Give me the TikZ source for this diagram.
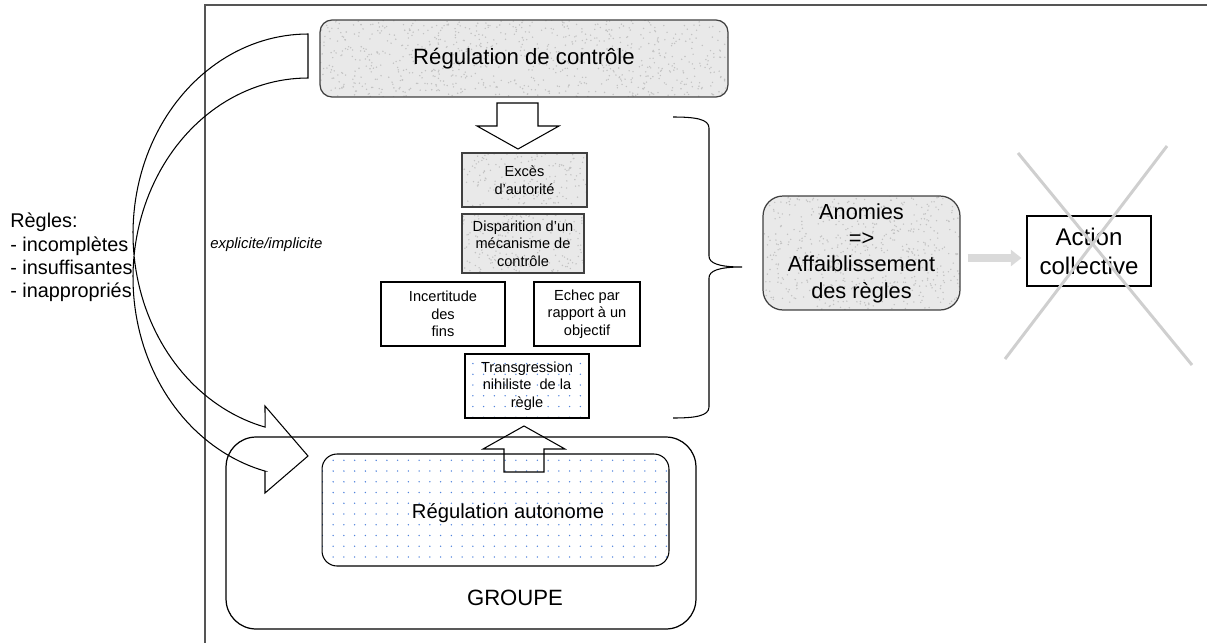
\documentclass[tikz,border=0pt]{standalone}
\usepackage{fontspec}
\setmainfont{Liberation Sans}
\usetikzlibrary{arrows.meta,patterns.meta,calc}
\definecolor{framegray}{HTML}{555555}
\definecolor{texgray}{HTML}{E9E9E9}
\definecolor{specdark}{HTML}{C2C2C2}
\definecolor{texborder}{HTML}{404040}
\definecolor{dotblue}{HTML}{4F82DC}
\definecolor{xgray}{HTML}{CFCFCF}
\definecolor{arrgray}{HTML}{DADADA}
\newcommand\mkspeckles[1]{%
  \coordinate (spsw) at (path picture bounding box.south west);
  \coordinate (spne) at (path picture bounding box.north east);
  \foreach \k in {1,...,#1}{%
    \pgfmathsetmacro\spa{rnd}\pgfmathsetmacro\spb{rnd}%
    \fill[specdark] let \p1=(spsw), \p2=(spne) in
      ({\x1+\spa*(\x2-\x1)},{\y1+\spb*(\y2-\y1)}) circle[radius=0.45pt];
  }}
\tikzset{
  granite/.style={draw=texborder, fill=texgray, line width=0.7pt, path picture={\mkspeckles{#1}}},
  plainbox/.style={draw=black, fill=white, line width=0.6pt},
  dotbox/.style={draw=black, line width=0.6pt, preaction={fill=white},
    pattern={Dots[distance=0.215cm, radius=0.45pt]}, pattern color=dotblue},
  smalltext/.style={font=\fontsize{8.3}{10}\selectfont, align=center, inner sep=0pt},
  shapeline/.style={draw=black, line width=0.6pt},
  xline/.style={draw=xgray, line width=1.7pt},
  grayarrow/.style={draw=arrgray, line width=4pt, -{Triangle[length=6pt,width=9pt]}},
}
\begin{document}
\begin{tikzpicture}[x=0.02cm, y=-0.02cm]
\pgfmathsetseed{12345}
\useasboundingbox (0,0) rectangle (1207,643);

% frame
\draw[framegray, line width=0.9pt] (1207,5) -- (205,5) -- (205,643);

% top box
\node[granite=800, rounded corners=0.24cm, minimum width=8.16cm, minimum height=1.54cm,
      font=\fontsize{12.6}{15}\selectfont] (rc) at (524,58.5) {Régulation de contrôle};

% down block arrow
\draw[shapeline, fill=white] (497,103) -- (538,103) -- (538,126) -- (559,126) -- (518,149)
  -- (477,126) -- (497,126) -- cycle;

% small boxes
\node[granite=170, smalltext, minimum width=2.5cm, minimum height=1.08cm] (exc) at (524.5,180) {Excès\\d’autorité};
\node[granite=180, smalltext, minimum width=2.44cm, minimum height=1.18cm] (disp) at (523,243.5) {Disparition d’un\\mécanisme de\\contrôle};
\node[plainbox, smalltext, minimum width=2.48cm, minimum height=1.28cm] (inc) at (443,314) {Incertitude\\des\\fins};
\node[plainbox, smalltext, minimum width=2.12cm, minimum height=1.28cm] (ech) at (587,314) {Echec par\\rapport à un\\objectif};
\node[dotbox, smalltext, minimum width=2.48cm, minimum height=1.28cm] (tr) at (527,386) {Transgression\\nihiliste\ \ de la\\règle};

% groupe
\node[draw=black, line width=0.7pt, rounded corners=0.6cm, minimum width=9.4cm, minimum height=3.84cm] (grp) at (461,533) {};
\node[dotbox, rounded corners=0.3cm, minimum width=6.94cm, minimum height=2.24cm] (ra) at (495.5,510) {};
\node[font=\fontsize{11.5}{14}\selectfont, inner sep=0pt] (ralbl) at (508,513) {Régulation autonome};
\node[font=\fontsize{12.6}{15}\selectfont, inner sep=0pt] (grplbl) at (515,598) {GROUPE};

% up block arrow
\draw[shapeline] (504,472) -- (504,449) -- (483,449) -- (524,426) -- (565,449) -- (544,449) -- (544,472) -- cycle;

% brace
\draw[black, line width=0.6pt] (673,117) .. controls (695,117) and (709,119) .. (709,128)
  -- (709,256) .. controls (709,263) and (718,267) .. (742,267)
  .. controls (718,267) and (709,271) .. (709,278)
  -- (709,407) .. controls (709,416) and (695,418) .. (673,418);

% anomies
\node[granite=560, rounded corners=0.4cm, minimum width=3.94cm, minimum height=2.28cm, align=center,
      font=\fontsize{12.4}{15}\selectfont] (anom) at (861.5,253) {Anomies\\=>\\Affaiblissement\\des règles};

% action collective
\node[plainbox, minimum width=2.48cm, minimum height=1.4cm, align=center,
      font=\fontsize{13.7}{16.5}\selectfont] (act) at (1089,251) {Action\\collective};

\draw[grayarrow] ([shift={(7,5)}]anom.east) -- ([shift={(-5,5)}]anom.east -| act.west);

% cross
\draw[xline] (1018,153) -- (1192,365);
\draw[xline] (1167,146) -- (1005,359);

% left texts
\node[anchor=west, inner sep=0pt, align=left, font=\fontsize{11.3}{13.3}\selectfont] (regles) at (10,257.5)
  {Règles:\\- incomplètes\\- insuffisantes\\- inappropriés};
\node[anchor=west, inner sep=0pt, font=\fontsize{8.5}{10}\selectfont\itshape] (expl) at (210,245) {explicite/implicite};

% curved block arrow
\draw[shapeline] (308,34)
  -- plot[domain=270:104.2, samples=90] ({308+175*cos(\x)},{233.6+199.6*sin(\x)})
  -- (265,406) -- (308,456) -- (265,493) -- (265,471.1)
  -- plot[domain=104.2:270, samples=90] ({308+175*cos(\x)},{277.6+199.6*sin(\x)})
  -- cycle;
\end{tikzpicture}
\end{document}
